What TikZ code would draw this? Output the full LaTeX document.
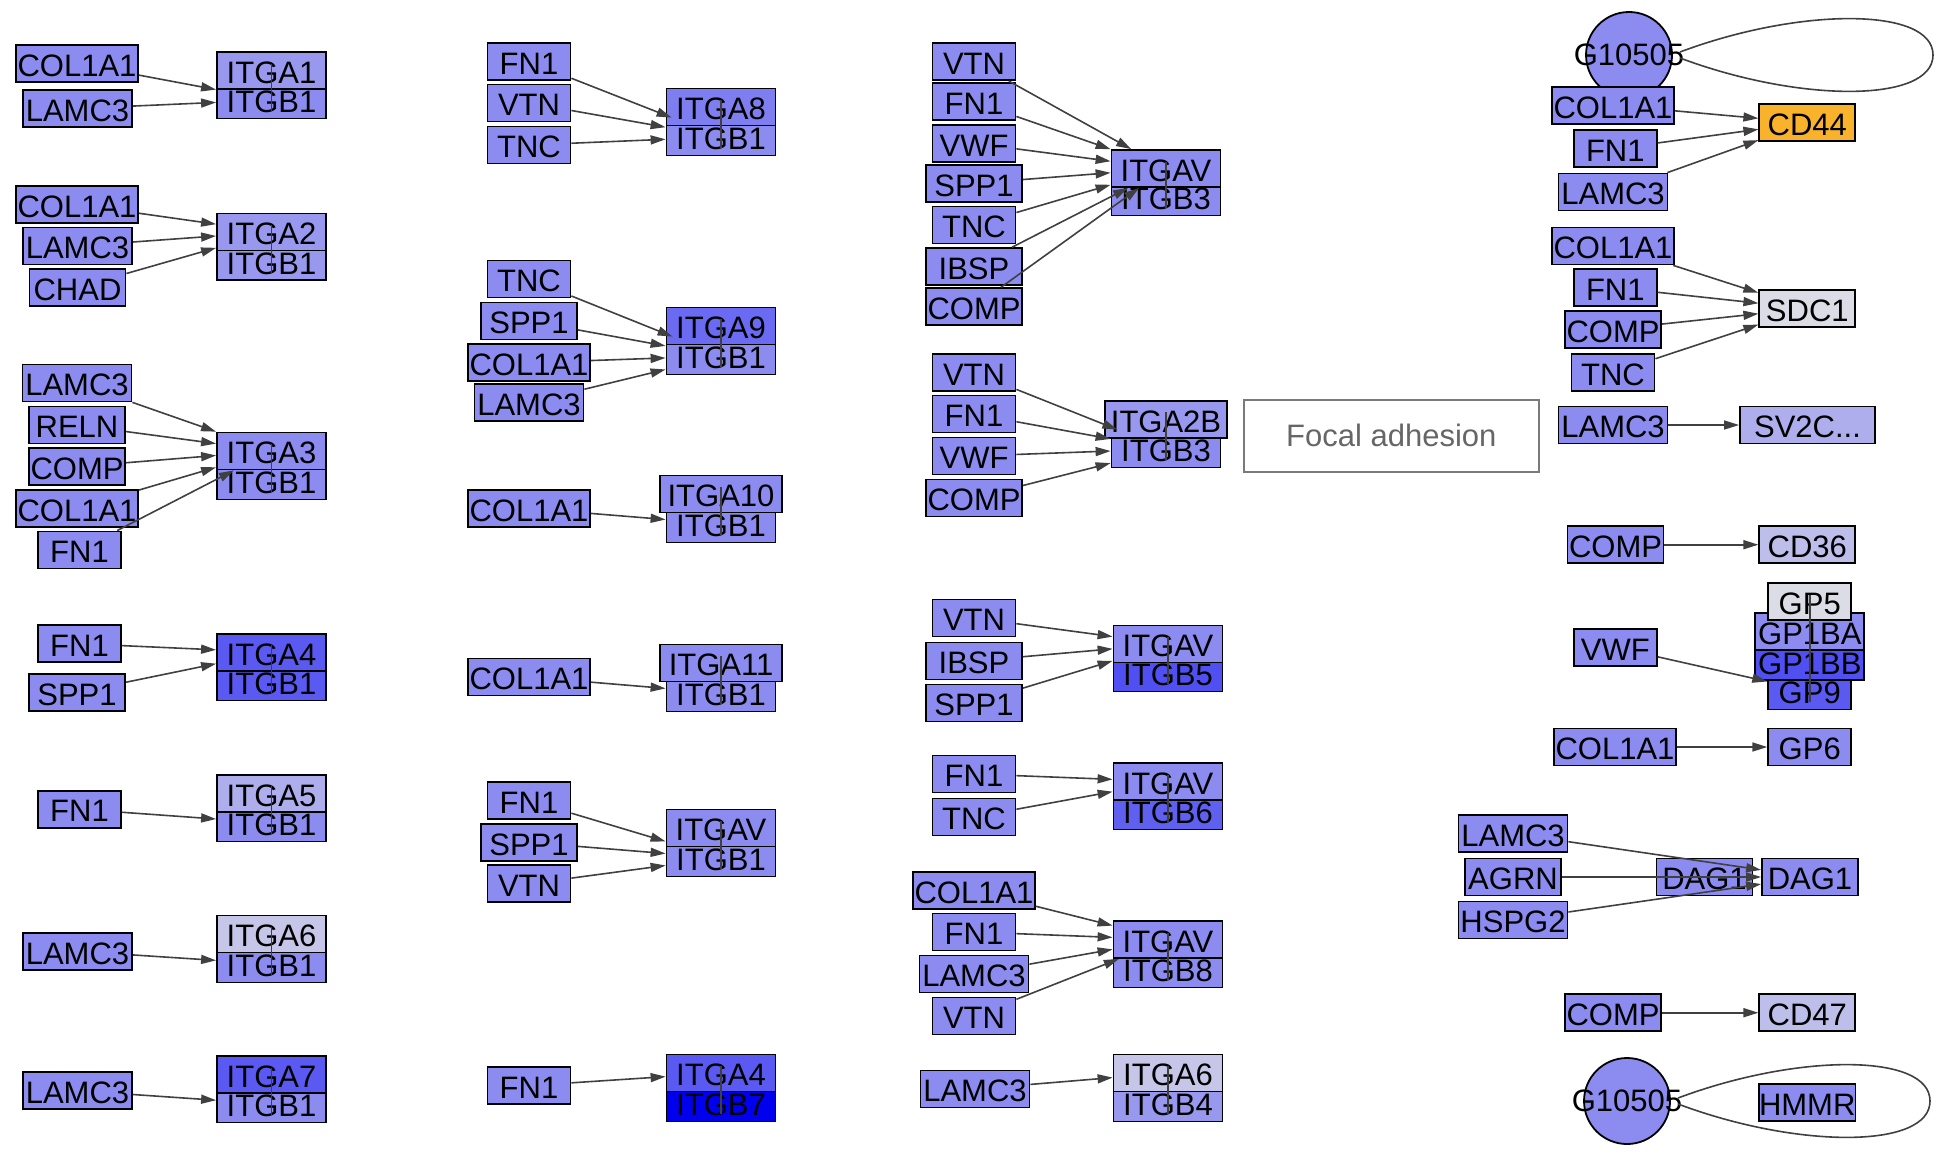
\documentclass[tikz,border=0pt]{standalone}
\usepackage{fontspec}
\setmainfont{Liberation Sans}
\usetikzlibrary{arrows.meta}
\definecolor{lig}{HTML}{8C8CF0}
\definecolor{soft}{HTML}{9898EE}
\definecolor{lite}{HTML}{AEAEEC}
\definecolor{pale}{HTML}{C6C6E8}
\definecolor{mid}{HTML}{7E7EF0}
\definecolor{nine}{HTML}{6A6AF2}
\definecolor{six}{HTML}{6060F0}
\definecolor{dark}{HTML}{5A5AF2}
\definecolor{darker}{HTML}{5050F2}
\definecolor{deep}{HTML}{0000EE}
\definecolor{greyish}{HTML}{DCDCE6}
\definecolor{cdlite}{HTML}{BEBEEA}
\definecolor{amber}{HTML}{F9B22B}
\definecolor{edge}{HTML}{404040}
\definecolor{mapgray}{HTML}{7A7A7A}
\definecolor{maptext}{HTML}{666666}

\begin{document}
\begin{tikzpicture}[x=0.5pt, y=-0.5pt,
  every node/.style={font=\fontsize{15.5}{18}\selectfont},
  gene/.style={draw=black, line width=0.9pt, fill=lig, inner sep=0pt,
    minimum height=18.5pt, text height=12.7pt, text depth=0pt},
  w3/.style={minimum width=41.5pt},
  w4/.style={minimum width=48pt},
  w5/.style={minimum width=54.5pt},
  w6/.style={minimum width=61pt},
  w7/.style={minimum width=67.5pt},
  cpd/.style={circle, draw=black, line width=0.9pt, fill=lig, minimum size=43pt, inner sep=0pt},
  mapbox/.style={draw=mapgray, line width=0.9pt, text=maptext, minimum width=147.5pt, minimum height=36pt},
  arr/.style={draw=edge, line width=0.8pt, -{Triangle[length=7.5pt,width=4.5pt]}},
  link/.style={draw=edge, line width=0.8pt, shorten <=-3.5pt, shorten >=-5.5pt},
  loopline/.style={draw=edge, line width=0.8pt}
]
\useasboundingbox (0,0) rectangle (1952,1151);

% first column: ITGB1 complexes
\node[gene, w6] (g1col) at (77,63.5) {COL1A1};
\node[gene, w5] (g1lam) at (77.5,108.5) {LAMC3};
\node[gene, w5] (g1b) at (271.5,100) {ITGB1};
\node[gene, w5, fill=soft] (g1a) at (271.5,70.5) {ITGA1};

\node[gene, w6] (g2col) at (77,204.5) {COL1A1};
\node[gene, w5] (g2lam) at (77.5,246) {LAMC3};
\node[gene, w4] (g2chad) at (77.5,287.5) {CHAD};
\node[gene, w5, fill=soft] (g2b) at (271.5,261.5) {ITGB1};
\node[gene, w5, fill=soft] (g2a) at (271.5,232) {ITGA2};

\node[gene, w5] (g3lam) at (77,383) {LAMC3};
\node[gene, w4] (g3reln) at (77,425) {RELN};
\node[gene, w4] (g3comp) at (77,466.7) {COMP};
\node[gene, w6] (g3col) at (77,508.3) {COL1A1};
\node[gene, w3] (g3fn) at (79.5,550) {FN1};
\node[gene, w5] (g3b) at (271.5,481) {ITGB1};
\node[gene, w5] (g3a) at (271.5,451) {ITGA3};

\node[gene, w3] (g4fn) at (79.5,643.7) {FN1};
\node[gene, w4] (g4spp) at (77,692.3) {SPP1};
\node[gene, w5, fill=dark] (g4b) at (271.5,682) {ITGB1};
\node[gene, w5, fill=dark] (g4a) at (271.5,652.3) {ITGA4};

\node[gene, w3] (g5fn) at (79.5,809.2) {FN1};
\node[gene, w5] (g5b) at (271.5,823) {ITGB1};
\node[gene, w5, fill=lite] (g5a) at (271.5,793.3) {ITGA5};

\node[gene, w5] (g6lam) at (77.5,951.3) {LAMC3};
\node[gene, w5] (g6b) at (271.5,964) {ITGB1};
\node[gene, w5, fill=pale] (g6a) at (271.5,934) {ITGA6};

\node[gene, w5] (g7lam) at (77.5,1090.7) {LAMC3};
\node[gene, w5] (g7b) at (271.5,1104) {ITGB1};
\node[gene, w5, fill=dark] (g7a) at (271.5,1074.7) {ITGA7};

% second column
\node[gene, w3] (g8fn) at (529,61.6) {FN1};
\node[gene, w3] (g8vtn) at (529,103) {VTN};
\node[gene, w3] (g8tnc) at (529,145) {TNC};
\node[gene, w5] (g8b) at (721,137) {ITGB1};
\node[gene, w5, fill=mid] (g8a) at (721,107) {ITGA8};

\node[gene, w3] (g9tnc) at (529,279) {TNC};
\node[gene, w4] (g9spp) at (529,321) {SPP1};
\node[gene, w6] (g9col) at (529,362.7) {COL1A1};
\node[gene, w5] (g9lam) at (529,402.7) {LAMC3};
\node[gene, w5] (g9b) at (721,356) {ITGB1};
\node[gene, w5, fill=nine] (g9a) at (721,326) {ITGA9};

\node[gene, w6] (g10col) at (529,508.4) {COL1A1};
\node[gene, w5] (g10b) at (721,524) {ITGB1};
\node[gene, w6] (g10a) at (721,494) {ITGA10};

\node[gene, w6] (g11col) at (529,677) {COL1A1};
\node[gene, w5] (g11b) at (721,693) {ITGB1};
\node[gene, w6] (g11a) at (721,663) {ITGA11};

\node[gene, w3] (g12fn) at (529,800.5) {FN1};
\node[gene, w4] (g12spp) at (529,842.4) {SPP1};
\node[gene, w3] (g12vtn) at (529,883.8) {VTN};
\node[gene, w5] (g12b) at (721,858) {ITGB1};
\node[gene, w5] (g12a) at (721,828) {ITGAV};

\node[gene, w3] (g13fn) at (529,1085.6) {FN1};
\node[gene, w5, fill=deep] (g13b) at (721,1103) {ITGB7};
\node[gene, w5, fill=dark] (g13a) at (721,1073) {ITGA4};

% third column: ITGAV and others
\node[gene, w3] (g14vtn) at (974,61.7) {VTN};
\node[gene, w3] (g14fn) at (974,101.7) {FN1};
\node[gene, w3] (g14vwf) at (974,143.3) {VWF};
\node[gene, w4] (g14spp) at (974,183.3) {SPP1};
\node[gene, w3] (g14tnc) at (974,225) {TNC};
\node[gene, w4] (g14ibsp) at (974,266.7) {IBSP};
\node[gene, w4] (g14comp) at (974,306.7) {COMP};
\node[gene, w5] (g14b) at (1166,197) {ITGB3};
\node[gene, w5] (g14a) at (1166,168.5) {ITGAV};

\node[gene, w3] (g15vtn) at (974,372.5) {VTN};
\node[gene, w3] (g15fn) at (974,414) {FN1};
\node[gene, w3] (g15vwf) at (974,456) {VWF};
\node[gene, w4] (g15comp) at (974,498) {COMP};
\node[gene, w5] (g15b) at (1166,449) {ITGB3};
\node[gene, w6, fill=soft] (g15a) at (1166,419.3) {ITGA2B};

\node[gene, w3] (g16vtn) at (974,618) {VTN};
\node[gene, w4] (g16ibsp) at (974,661) {IBSP};
\node[gene, w4] (g16spp) at (974,703) {SPP1};
\node[gene, w5, fill=darker] (g16b) at (1168,673) {ITGB5};
\node[gene, w5] (g16a) at (1168,644) {ITGAV};

\node[gene, w3] (g17fn) at (974,774) {FN1};
\node[gene, w3] (g17tnc) at (974,817) {TNC};
\node[gene, w5, fill=six] (g17b) at (1168,811) {ITGB6};
\node[gene, w5] (g17a) at (1168,781.5) {ITGAV};

\node[gene, w6] (g18col) at (974,890.7) {COL1A1};
\node[gene, w3] (g18fn) at (974,932) {FN1};
\node[gene, w5] (g18lam) at (974,974) {LAMC3};
\node[gene, w3] (g18vtn) at (974,1016) {VTN};
\node[gene, w5] (g18b) at (1168,969) {ITGB8};
\node[gene, w5] (g18a) at (1168,939.5) {ITGAV};

\node[gene, w5] (g19lam) at (975,1089) {LAMC3};
\node[gene, w5, fill=soft] (g19b) at (1168,1103) {ITGB4};
\node[gene, w5, fill=pale] (g19a) at (1168,1073) {ITGA6};

\node[mapbox] (focal) at (1391.3,435.7) {Focal adhesion};

% fourth column: other receptors
\node[cpd, label={center:G10505}] (g10505a) at (1629,55) {};
\node[gene, w6] (g20col) at (1613,105.3) {COL1A1};
\node[gene, w3] (g20fn) at (1615.3,148.7) {FN1};
\node[gene, w5] (g20lam) at (1613,192) {LAMC3};
\node[gene, w4, fill=amber] (cd44) at (1807.3,122.7) {CD44};

\node[gene, w6] (g21col) at (1613,246) {COL1A1};
\node[gene, w3] (g21fn) at (1615.3,287.7) {FN1};
\node[gene, w4] (g21comp) at (1613,329.3) {COMP};
\node[gene, w3] (g21tnc) at (1613,372.7) {TNC};
\node[gene, w4, fill=greyish] (sdc1) at (1807.3,308.5) {SDC1};

\node[gene, w5] (g22lam) at (1613,425) {LAMC3};
\node[gene, w7, fill=lite] (sv2c) at (1807.5,425) {SV2C...};

\node[gene, w4] (g23comp) at (1615.5,544.7) {COMP};
\node[gene, w4, fill=cdlite] (cd36) at (1807.3,544.7) {CD36};

\node[gene, w3] (g24vwf) at (1615.3,647.3) {VWF};
\node[gene, w3, fill=dark] (gp9) at (1809.7,691) {GP9};
\node[gene, w5, fill=darker] (gp1bb) at (1809.8,661.5) {GP1BB};
\node[gene, w5] (gp1ba) at (1809.8,631.6) {GP1BA};
\node[gene, w3, fill=greyish] (gp5) at (1809.7,601.7) {GP5};

\node[gene, w6] (g25col) at (1615,747) {COL1A1};
\node[gene, w3] (gp6) at (1809.7,747) {GP6};

\node[gene, w5] (g26lam) at (1513,833.6) {LAMC3};
\node[gene, w4] (g26agrn) at (1513,877) {AGRN};
\node[gene, w5] (g26hspg) at (1513,920) {HSPG2};
\node[gene, w4] (dag1a) at (1704.5,877) {DAG1};
\node[gene, w4] (dag1b) at (1810,877) {DAG1};

\node[gene, w4] (g27comp) at (1613,1012.7) {COMP};
\node[gene, w4, fill=cdlite] (cd47) at (1807.3,1012.7) {CD47};

\node[cpd, label={center:G10505}] (g10505b) at (1627,1101) {};
\node[gene, w4] (hmmr) at (1807.2,1102.6) {HMMR};

% complex members
\draw[link] (g1a.center) -- (g1b.center);
\draw[link] (g2a.center) -- (g2b.center);
\draw[link] (g3a.center) -- (g3b.center);
\draw[link] (g4a.center) -- (g4b.center);
\draw[link] (g5a.center) -- (g5b.center);
\draw[link] (g6a.center) -- (g6b.center);
\draw[link] (g7a.center) -- (g7b.center);
\draw[link] (g8a.center) -- (g8b.center);
\draw[link] (g9a.center) -- (g9b.center);
\draw[link] (g10a.center) -- (g10b.center);
\draw[link] (g11a.center) -- (g11b.center);
\draw[link] (g12a.center) -- (g12b.center);
\draw[link] (g13a.center) -- (g13b.center);
\draw[link] (g14a.center) -- (g14b.center);
\draw[link] (g15a.center) -- (g15b.center);
\draw[link] (g16a.center) -- (g16b.center);
\draw[link] (g17a.center) -- (g17b.center);
\draw[link] (g18a.center) -- (g18b.center);
\draw[link] (g19a.center) -- (g19b.center);
\draw[link] (gp5.center) -- (gp9.center);

% interactions
\draw[arr] (g1col) -- (g1b);
\draw[arr] (g1lam) -- (g1b);
\draw[arr] (g2col) -- (g2a);
\draw[arr] (g2lam) -- (g2a);
\draw[arr] (g2chad) -- (g2a);
\draw[arr] (g3lam) -- (g3a);
\draw[arr] (g3reln) -- (g3a);
\draw[arr] (g3comp) -- (g3a);
\draw[arr] (g3col) -- (g3a);
\draw[arr] (g3fn) -- (g3a);
\draw[arr] (g4fn) -- (g4a);
\draw[arr] (g4spp) -- (g4a);
\draw[arr] (g5fn) -- (g5b);
\draw[arr] (g6lam) -- (g6b);
\draw[arr] (g7lam) -- (g7b);
\draw[arr] (g8fn) -- (g8b);
\draw[arr] (g8vtn) -- (g8b);
\draw[arr] (g8tnc) -- (g8b);
\draw[arr] (g9tnc) -- (g9b);
\draw[arr] (g9spp) -- (g9b);
\draw[arr] (g9col) -- (g9b);
\draw[arr] (g9lam) -- (g9b);
\draw[arr] (g10col) -- (g10b);
\draw[arr] (g11col) -- (g11b);
\draw[arr] (g12fn) -- (g12b);
\draw[arr] (g12spp) -- (g12b);
\draw[arr] (g12vtn) -- (g12b);
\draw[arr] (g13fn) -- (g13a);
\draw[arr] (g14vtn) -- (g14a);
\draw[arr] (g14fn) -- (g14a);
\draw[arr] (g14vwf) -- (g14a);
\draw[arr] (g14spp) -- (g14a);
\draw[arr] (g14tnc) -- (g14a);
\draw[arr] (g14ibsp) -- (g14a);
\draw[arr] (g14comp) -- (g14a);
\draw[arr] (g15vtn) -- (g15b);
\draw[arr] (g15fn) -- (g15b);
\draw[arr] (g15vwf) -- (g15b);
\draw[arr] (g15comp) -- (g15b);
\draw[arr] (g16vtn) -- (g16a);
\draw[arr] (g16ibsp) -- (g16a);
\draw[arr] (g16spp) -- (g16a);
\draw[arr] (g17fn) -- (g17a);
\draw[arr] (g17tnc) -- (g17a);
\draw[arr] (g18col) -- (g18a);
\draw[arr] (g18fn) -- (g18a);
\draw[arr] (g18lam) -- (g18a);
\draw[arr] (g18vtn) -- (g18a);
\draw[arr] (g19lam) -- (g19a);
\draw[arr] (g20col) -- (cd44);
\draw[arr] (g20fn) -- (cd44);
\draw[arr] (g20lam) -- (cd44);
\draw[arr] (g21col) -- (sdc1);
\draw[arr] (g21fn) -- (sdc1);
\draw[arr] (g21comp) -- (sdc1);
\draw[arr] (g21tnc) -- (sdc1);
\draw[arr] (g22lam) -- (sv2c);
\draw[arr] (g23comp) -- (cd36);
\draw[arr] (g24vwf) -- (gp9);
\draw[arr] (g25col) -- (gp6);
\draw[arr] (g26lam) -- (dag1b);
\draw[arr] (g26agrn) -- (dag1b);
\draw[arr] (g26hspg) -- (dag1b);
\draw[arr] (g27comp) -- (cd47);

% self loops
\draw[loopline] ([shift={(51,-3)}]g10505a.center) .. controls ([shift={(171,-48)}]g10505a.center) and ([shift={(304,-48)}]g10505a.center) .. ([shift={(304,0)}]g10505a.center)
  .. controls ([shift={(304,48)}]g10505a.center) and ([shift={(171,48)}]g10505a.center) .. ([shift={(51,3)}]g10505a.center);
\draw[loopline] ([shift={(51,-3)}]g10505b.center) .. controls ([shift={(171,-48)}]g10505b.center) and ([shift={(303,-48)}]g10505b.center) .. ([shift={(303,0)}]g10505b.center)
  .. controls ([shift={(303,48)}]g10505b.center) and ([shift={(171,48)}]g10505b.center) .. ([shift={(51,3)}]g10505b.center);
\end{tikzpicture}
\end{document}
